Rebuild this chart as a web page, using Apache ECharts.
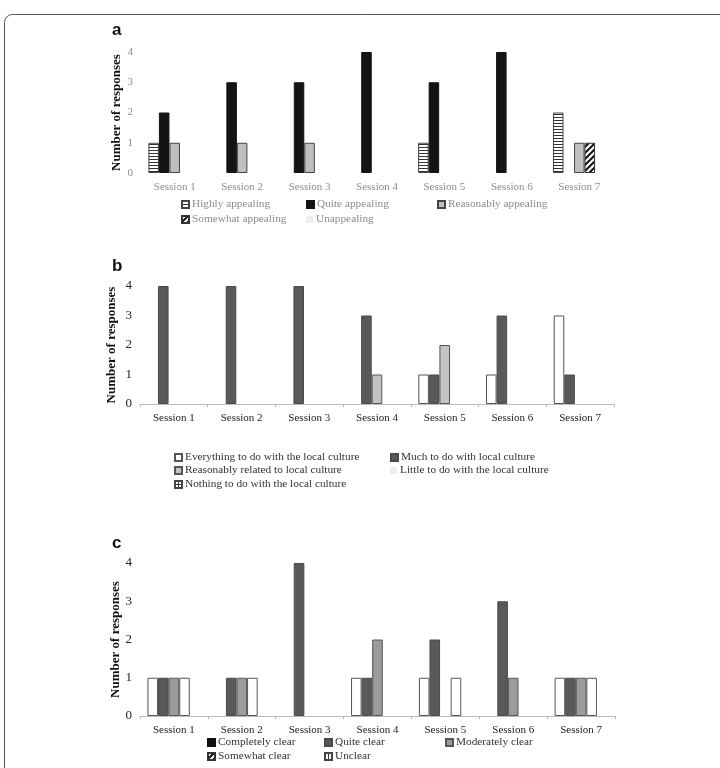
<!DOCTYPE html>
<html>
<head>
<meta charset="utf-8">
<script src="https://cdn.jsdelivr.net/npm/echarts@6/dist/echarts.min.js"></script>
<style>
  html, body { margin: 0; padding: 0; background: #fff; }
  #chart { width: 720px; height: 768px; }
</style>
</head>
<body>
<div id="chart"></div>
<script>
// data
const sessions = ['Session 1', 'Session 2', 'Session 3', 'Session 4', 'Session 5', 'Session 6', 'Session 7']

// panel a - appeal
const aNames = ['Highly appealing', 'Quite appealing', 'Reasonably appealing', 'Somewhat appealing', 'Unappealing']
const aHighly = [1, 0, 0, 0, 1, 0, 2]
const aQuite = [2, 3, 3, 4, 3, 4, 0]
const aReasonably = [1, 1, 1, 0, 0, 0, 1]
const aSomewhat = [0, 0, 0, 0, 0, 0, 1]
const aUnappealing = [0, 0, 0, 0, 0, 0, 0]

// panel b - relation to local culture
const bNames = ['Everything to do with the local culture', 'Much to do with local culture', 'Reasonably related to local culture', 'Little to do with the local culture', 'Nothing to do with the local culture']
const bEverything = [0, 0, 0, 0, 1, 1, 3]
const bMuch = [4, 4, 4, 3, 1, 3, 1]
const bReasonably = [0, 0, 0, 1, 2, 0, 0]
const bLittle = [0, 0, 0, 0, 0, 0, 0]
const bNothing = [0, 0, 0, 0, 0, 0, 0]

// panel c - clarity
const cNames = ['Completely clear', 'Quite clear', 'Moderately clear', 'Somewhat clear', 'Unclear']
const cCompletely = [1, 0, 0, 1, 1, 0, 1]
const cQuite = [1, 1, 4, 1, 2, 3, 1]
const cModerately = [1, 1, 0, 2, 0, 1, 1]
const cSomewhat = [1, 1, 0, 0, 1, 0, 1]
const cUnclear = [0, 0, 0, 0, 0, 0, 0]

const yMin = 0, yMax = 4, yStep = 1
const yTitle = 'Number of responses'

const serif = 'Liberation Serif'

// small canvas patterns for hatched bars
function makePattern(w, h, draw) {
    const cv = document.createElement('canvas')
    cv.width = w; cv.height = h
    const ctx = cv.getContext('2d')
    ctx.fillStyle = '#fff'
    ctx.fillRect(0, 0, w, h)
    draw(ctx)
    return { image: cv, repeat: 'repeat' }
}
const hStripe = makePattern(4, 3, ctx => { ctx.fillStyle = '#333'; ctx.fillRect(0, 0, 4, 1) })
const diag = makePattern(6, 6, ctx => {
    ctx.strokeStyle = '#111'; ctx.lineWidth = 2
    ctx.beginPath()
    ctx.moveTo(-1, 7); ctx.lineTo(7, -1)
    ctx.moveTo(-4, 4); ctx.lineTo(4, -4)
    ctx.moveTo(2, 10); ctx.lineTo(10, 2)
    ctx.stroke()
})
const vLine = makePattern(8, 8, ctx => { ctx.fillStyle = '#333'; ctx.fillRect(3, 0, 1, 8) })
const cross = makePattern(8, 8, ctx => { ctx.fillStyle = '#333'; ctx.fillRect(3, 0, 1, 8); ctx.fillRect(0, 3, 8, 1) })

const noZero = arr => arr.map(v => v === 0 ? '-' : v)

// grids (one per panel)
const grids = [
    { left: 141, top: 52, width: 472, height: 121 },
    { left: 140, top: 286, width: 474, height: 118 },
    { left: 140, top: 563, width: 475, height: 153 }
]
const labelColors = ['#8c8c8c', '#222', '#222']
const ySizes = [11, 13, 13]
const nameGaps = [18, 22, 18]

const panels = [
    { names: aNames, values: [aHighly, aQuite, aReasonably, aSomewhat, aUnappealing],
      styles: [
          { color: hStripe, borderColor: '#444', borderWidth: 1 },
          { color: '#141414', borderColor: '#141414', borderWidth: 1 },
          { color: '#bfbfbf', borderColor: '#444', borderWidth: 1 },
          { color: diag, borderColor: '#333', borderWidth: 1 },
          { color: '#eeeeee', borderColor: '#eeeeee', borderWidth: 0 }
      ],
      legendPos: [[181, 199], [306, 199], [437, 199], [181, 214], [306, 214]],
      textColor: '#8c8c8c' },
    { names: bNames, values: [bEverything, bMuch, bReasonably, bLittle, bNothing],
      styles: [
          { color: '#fff', borderColor: '#555', borderWidth: 1 },
          { color: '#595959', borderColor: '#4a4a4a', borderWidth: 1 },
          { color: '#c4c4c4', borderColor: '#555', borderWidth: 1 },
          { color: '#eeeeee', borderColor: '#eeeeee', borderWidth: 0 },
          { color: cross, borderColor: '#444', borderWidth: 1 }
      ],
      legendPos: [[174, 452], [390, 452], [174, 465], [390, 465], [174, 479]],
      textColor: '#333' },
    { names: cNames, values: [cCompletely, cQuite, cModerately, cSomewhat, cUnclear],
      styles: [
          { color: '#fff', borderColor: '#555', borderWidth: 1 },
          { color: '#595959', borderColor: '#4a4a4a', borderWidth: 1 },
          { color: '#9c9c9c', borderColor: '#555', borderWidth: 1 },
          { color: '#fff', borderColor: '#555', borderWidth: 1 },
          { color: vLine, borderColor: '#444', borderWidth: 1 }
      ],
      // legend keys that differ from the bars drawn
      legendStyles: [
          { color: '#111', borderColor: '#111' }, null, null,
          { color: diag, borderColor: '#333' }, null
      ],
      legendPos: [[207, 737], [324, 737], [445, 737], [207, 751], [324, 751]],
      textColor: '#333' }
]

const xAxes = [], yAxes = [], series = [], legends = []

panels.forEach((p, i) => {
    xAxes.push({
        type: 'category', gridIndex: i, data: sessions,
        axisLine: { show: i > 0, lineStyle: { color: '#bbb' } },
        axisTick: { show: i > 0, length: 3, lineStyle: { color: '#bbb' } },
        axisLabel: { color: labelColors[i], fontFamily: serif, fontSize: 11, margin: 9 }
    })
    yAxes.push({
        type: 'value', gridIndex: i, min: yMin, max: yMax, interval: yStep,
        name: yTitle, nameLocation: 'middle', nameGap: nameGaps[i], nameMoveOverlap: false,
        nameTextStyle: { fontFamily: serif, fontWeight: 'bold', fontSize: 13, color: '#111' },
        axisLine: { show: false }, axisTick: { show: false }, splitLine: { show: false },
        axisLabel: { color: labelColors[i], fontFamily: serif, fontSize: ySizes[i], margin: 8 }
    })
    p.names.forEach((name, k) => {
        series.push({
            type: 'bar', name: name, xAxisIndex: i, yAxisIndex: i,
            data: noZero(p.values[k]),
            barGap: '0%', barCategoryGap: '22%',
            itemStyle: p.styles[k],
            emphasis: { disabled: true }
        })
        const ls = p.legendStyles && p.legendStyles[k]
        legends.push({
            left: p.legendPos[k][0], top: p.legendPos[k][1], padding: 0,
            itemWidth: 7, itemHeight: 7, icon: 'rect',
            selectedMode: false,
            data: [ls ? { name: name, itemStyle: ls } : name],
            textStyle: { fontFamily: serif, fontSize: 11.3, color: p.textColor, padding: [0, 0, 0, -2] }
        })
    })
})

const chart = echarts.init(document.getElementById('chart'))
chart.setOption({
    backgroundColor: '#fff',
    animation: false,
    title: ['a', 'b', 'c'].map((t, i) => ({
        text: t, left: 112, top: [22, 258, 535][i], padding: 0,
        textStyle: { fontFamily: 'Liberation Sans', fontWeight: 'bold', fontSize: 17, color: '#111' }
    })),
    graphic: [{
        type: 'rect', left: 2, top: 12, silent: true,
        shape: { width: 740, height: 800, r: 8 },
        style: { fill: 'none', stroke: '#555', lineWidth: 1 }
    }],
    grid: grids,
    xAxis: xAxes,
    yAxis: yAxes,
    legend: legends,
    series: series
})
</script>
</body>
</html>
